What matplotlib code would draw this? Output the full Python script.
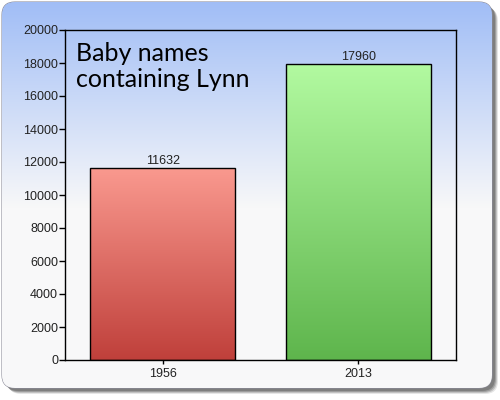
import numpy as np
import matplotlib
matplotlib.use("Agg")
import matplotlib.pyplot as plt
from matplotlib.patches import FancyBboxPatch
from matplotlib.colors import LinearSegmentedColormap

categories = ["1956", "2013"]
values = [11632, 17960]
title = "Baby names\ncontaining Lynn"
yticks = [0, 2000, 4000, 6000, 8000, 10000, 12000, 14000, 16000, 18000, 20000]

fig = plt.figure(figsize=(5, 4), dpi=100)
fig.patch.set_facecolor("white")

# background panel
bg = fig.add_axes([0, 0, 1, 1], zorder=-5)
bg.set_xlim(0, 500)
bg.set_ylim(400, 0)
bg.axis("off")
for i, (off, a) in enumerate([(6, 0.15), (5, 0.25), (4, 0.35), (3, 0.45)]):
    sh = FancyBboxPatch((2 + off, 2 + off), 490, 386, boxstyle="round,pad=0,rounding_size=13",
                        fc=(0.35, 0.35, 0.35, a), ec="none")
    bg.add_patch(sh)
panel = FancyBboxPatch((2, 2), 490, 386, boxstyle="round,pad=0,rounding_size=13",
                       fc="none", ec=(0.55, 0.55, 0.6), lw=0.8)
bg.add_patch(panel)
ys = np.linspace(0, 1, 400)
top = np.array([160, 189, 246]) / 255
mid = np.array([248, 248, 249]) / 255
grad = np.zeros((400, 1, 3))
for k, y in enumerate(ys):
    t = min(y / 0.52, 1.0)
    grad[k, 0] = top * (1 - t) + mid * t
img = bg.imshow(grad, extent=[0, 500, 400, 0], aspect="auto", zorder=1)
img.set_clip_path(panel)

ax = fig.add_axes([0.13, 0.10, 0.782, 0.825])
ax.set_facecolor("none")
x = np.arange(len(categories))
bars = ax.bar(x, values, width=0.74, color="none", edgecolor="black", linewidth=1, zorder=3)

cmaps = [
    LinearSegmentedColormap.from_list("r", [(0.75, 0.25, 0.23), (0.98, 0.60, 0.56)]),
    LinearSegmentedColormap.from_list("g", [(0.37, 0.71, 0.30), (0.70, 0.98, 0.63)]),
]
for b, cm in zip(bars, cmaps):
    x0, w, h = b.get_x(), b.get_width(), b.get_height()
    g = np.linspace(0, 1, 256).reshape(-1, 1)
    im = ax.imshow(g, extent=[x0, x0 + w, 0, h], origin="lower", aspect="auto",
                   cmap=cm, zorder=2)
    im.set_clip_path(b)
    ax.text(x0 + w / 2, h + 60, f"{int(h)}", ha="center", va="bottom",
            fontsize=9, color="#222222", family="Liberation Sans")

ax.set_xlim(-0.5, 1.5)
ax.set_ylim(0, 20000)
ax.set_xticks(x)
ax.set_xticklabels(categories)
ax.set_yticks(yticks)
for lab in ax.get_xticklabels() + ax.get_yticklabels():
    lab.set_family("Liberation Sans")
    lab.set_fontsize(9)
    lab.set_color("#222222")
ax.tick_params(axis="y", direction="out", length=4, width=1, pad=1)
ax.tick_params(axis="x", direction="out", length=3, width=1, pad=3)
for s in ax.spines.values():
    s.set_color("black")
    s.set_linewidth(1)

ax.text(0.028, 0.965, title, transform=ax.transAxes, ha="left", va="top",
        fontsize=18, family="Lato", color="black", linespacing=1.18, zorder=5)

fig.savefig("out.png", dpi=100)
